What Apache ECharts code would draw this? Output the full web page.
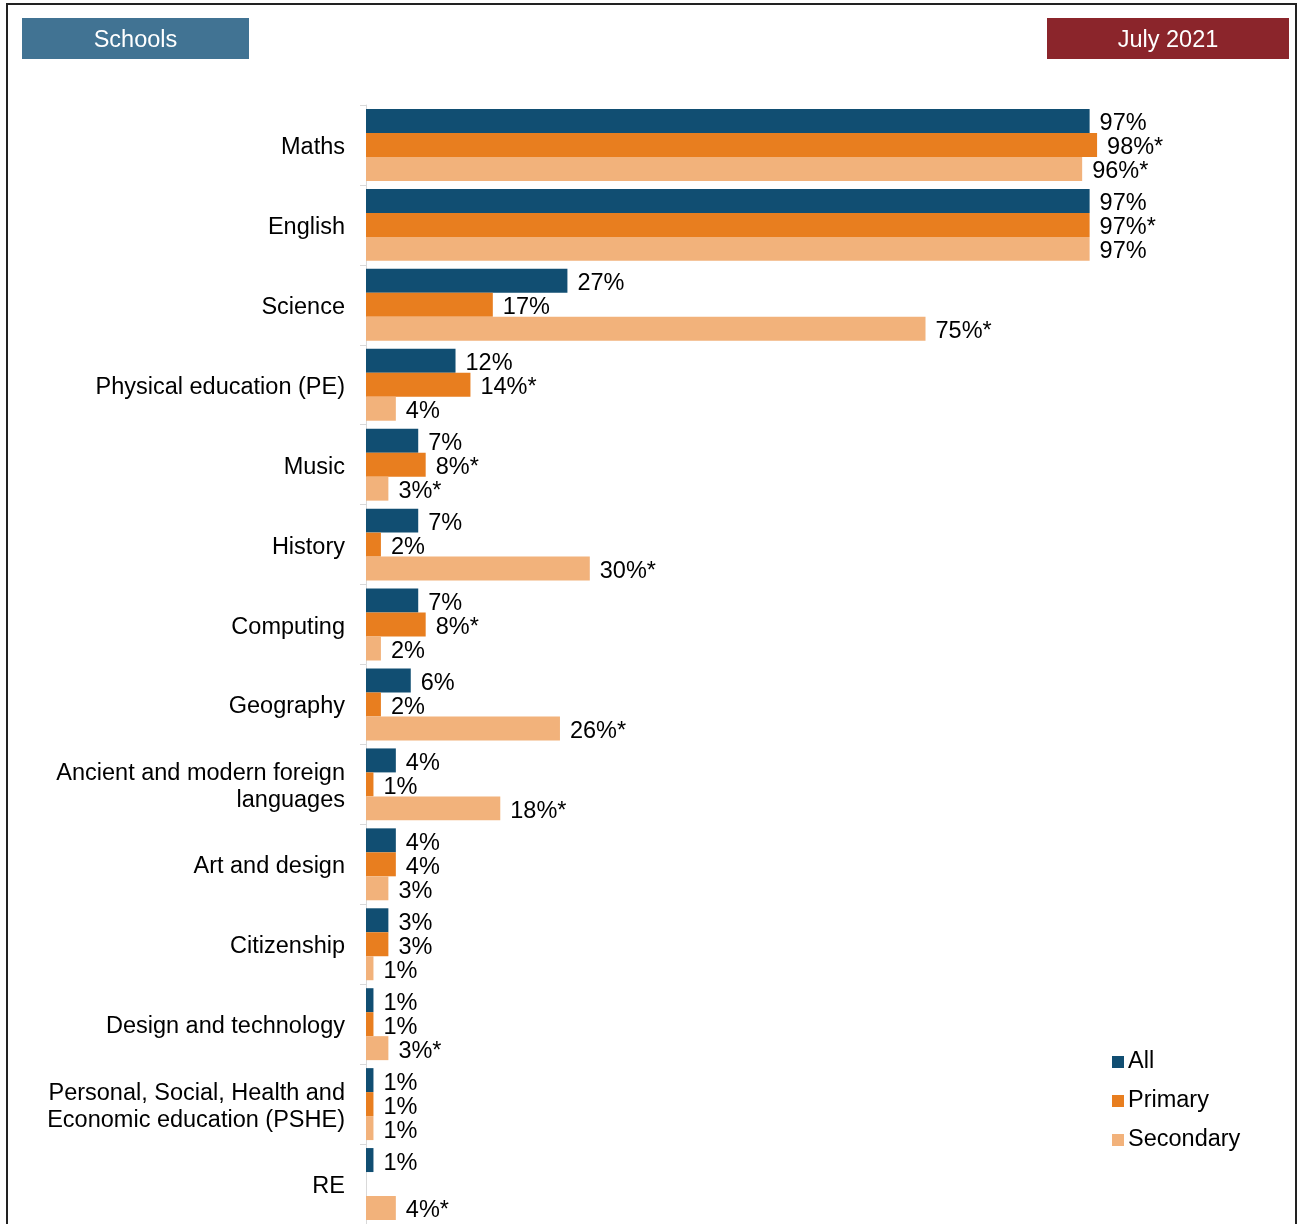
<!DOCTYPE html>
<html>
<head>
<meta charset="utf-8">
<title>Schools - July 2021</title>
<script src="https://cdn.jsdelivr.net/npm/echarts@6/dist/echarts.min.js"></script>
<style>
  html, body { margin: 0; padding: 0; background: #fff; }
  #main { width: 1299px; height: 1224px; }
</style>
</head>
<body>
<div id="main"></div>
<script>
// subjects, top to bottom
var subjects = [
  'Maths', 'English', 'Science', 'Physical education (PE)', 'Music', 'History',
  'Computing', 'Geography', 'Ancient and modern foreign\nlanguages', 'Art and design',
  'Citizenship', 'Design and technology', 'Personal, Social, Health and\nEconomic education (PSHE)', 'RE'
];

// percentages
var allSchools = [97, 97, 27, 12, 7, 7, 7, 6, 4, 4, 3, 1, 1, 1];
var primary    = [98, 97, 17, 14, 8, 2, 8, 2, 1, 4, 3, 1, 1, null];
var secondary  = [96, 97, 75, 4, 3, 30, 2, 26, 18, 3, 1, 3, 1, 4];

// significant difference markers (*)
var allStar       = [0, 0, 0, 0, 0, 0, 0, 0, 0, 0, 0, 0, 0, 0];
var primaryStar   = [1, 1, 0, 1, 1, 0, 1, 0, 0, 0, 0, 0, 0, 0];
var secondaryStar = [1, 0, 1, 0, 1, 1, 0, 1, 1, 0, 0, 1, 0, 1];

var seriesNames = ['All', 'Primary', 'Secondary'];
var colors = ['#114e72', '#e87e1f', '#f2b27b'];
var stars = [allStar, primaryStar, secondaryStar];

var FONT = '"Liberation Sans", Arial, sans-serif';

var myChart = echarts.init(document.getElementById('main'));

function makeSeries(i, data) {
  return {
    name: seriesNames[i],
    type: 'bar',
    data: data,
    barGap: '0%',
    barCategoryGap: '10%',
    itemStyle: { color: colors[i] },
    label: {
      show: true,
      position: 'right',
      distance: 10,
      offset: [0, 3],
      color: '#000',
      fontSize: 23.5,
      fontFamily: FONT,
      formatter: function (p) {
        if (p.value == null) return '';
        return p.value + '%' + (stars[i][p.dataIndex] ? '*' : '');
      }
    }
  };
}

var option = {
  animation: false,
  color: colors,
  textStyle: { fontFamily: FONT },
  grid: { left: 366, top: 105, width: 746, height: 1120 },
  xAxis: {
    type: 'value',
    min: 0,
    max: 100,
    show: false
  },
  yAxis: {
    type: 'category',
    data: subjects,
    inverse: true,
    axisLine: { show: true, lineStyle: { color: '#d9d9d9', width: 1 } },
    axisTick: { show: true, length: 6, lineStyle: { color: '#d9d9d9' } },
    axisLabel: {
      color: '#000',
      fontSize: 23.5,
      fontFamily: FONT,
      margin: 21,
      align: 'right',
      formatter: function (v) {
        return v.split('\n').map(function (s) { return '{a|' + s + '}'; }).join('\n');
      },
      rich: {
        a: {
          color: '#000',
          fontSize: 23.5,
          fontFamily: FONT,
          lineHeight: 27,
          padding: [5, 0, 0, 0]
        }
      }
    }
  },
  legend: {
    orient: 'vertical',
    left: 1107,
    top: 1045,
    itemWidth: 12,
    itemHeight: 12,
    itemGap: 15,
    icon: 'rect',
    textStyle: { color: '#000', fontSize: 23.5, fontFamily: FONT, padding: [0, 0, 0, -1] },
    data: seriesNames
  },
  graphic: [
    {
      type: 'rect',
      shape: { x: 7, y: 4, width: 1289, height: 1240 },
      style: { fill: 'none', stroke: '#222', lineWidth: 2 },
      silent: true
    },
    {
      type: 'rect',
      shape: { x: 22, y: 18, width: 227, height: 41 },
      style: { fill: '#417393' }
    },
    {
      type: 'text',
      x: 135.5, y: 41,
      style: { text: 'Schools', fill: '#fff', font: '23.5px ' + FONT, align: 'center', verticalAlign: 'middle' }
    },
    {
      type: 'rect',
      shape: { x: 1047, y: 18, width: 242, height: 41 },
      style: { fill: '#8b252b' }
    },
    {
      type: 'text',
      x: 1168, y: 41,
      style: { text: 'July 2021', fill: '#fff', font: '23.5px ' + FONT, align: 'center', verticalAlign: 'middle' }
    }
  ],
  series: [
    makeSeries(0, allSchools),
    makeSeries(1, primary),
    makeSeries(2, secondary)
  ]
};

myChart.setOption(option);
</script>
</body>
</html>
